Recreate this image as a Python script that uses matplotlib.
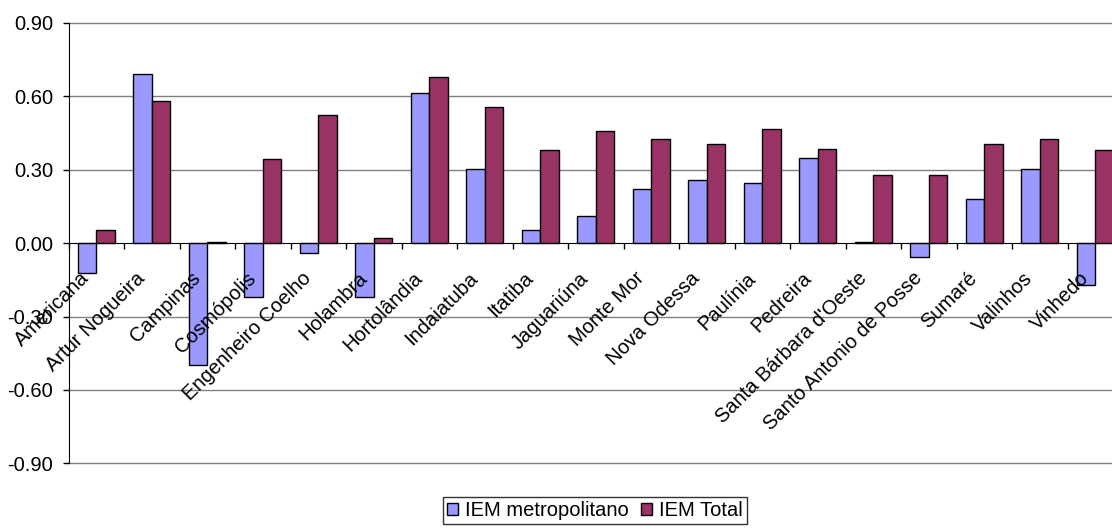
import matplotlib
matplotlib.use("Agg")
import matplotlib.pyplot as plt
import numpy as np
from matplotlib.ticker import FormatStrFormatter, FixedLocator

plt.rcParams['font.family'] = ['Liberation Sans', 'DejaVu Sans']

municipios = ["Americana", "Artur Nogueira", "Campinas", "Cosmópolis",
              "Engenheiro Coelho", "Holambra", "Hortolândia", "Indaiatuba",
              "Itatiba", "Jaguariúna", "Monte Mor", "Nova Odessa", "Paulínia",
              "Pedreira", "Santa Bárbara d'Oeste", "Santo Antonio de Posse",
              "Sumaré", "Valinhos", "Vinhedo"]
iem_metropolitano = [-0.123, 0.690, -0.498, -0.220, -0.040, -0.220, 0.612,
                     0.303, 0.053, 0.110, 0.220, 0.259, 0.247, 0.349, 0.006,
                     -0.057, 0.180, 0.303, -0.172]
iem_total = [0.053, 0.581, 0.006, 0.342, 0.522, 0.020, 0.678, 0.556, 0.380,
             0.458, 0.425, 0.406, 0.465, 0.386, 0.277, 0.277, 0.406, 0.425,
             0.380]
y_ticks = [-0.90, -0.60, -0.30, 0.00, 0.30, 0.60, 0.90]

FS = 14.5

fig = plt.figure(figsize=(11.12, 5.31), dpi=100)
ax = fig.add_axes([0.0618, 0.1275, 0.9382, 0.8292])

x = np.arange(len(municipios))
w = 1 / 3
b1 = ax.bar(x - w / 2, iem_metropolitano, width=w, color="#9999FF",
            edgecolor="black", linewidth=1.0, label="IEM metropolitano", zorder=3)
b2 = ax.bar(x + w / 2, iem_total, width=w, color="#993366",
            edgecolor="black", linewidth=1.0, label="IEM Total", zorder=3)

ax.set_ylim(-0.9, 0.9)
ax.set_xlim(-0.5, 18.3)
ax.set_yticks(y_ticks)
ax.yaxis.set_major_formatter(FormatStrFormatter('%.2f'))

# horizontal grid, kept unclipped so the edge lines show at full width
for yv in y_ticks:
    if yv != 0:
        ax.axhline(yv, color="#808080", linewidth=1.0, zorder=1, clip_on=False)

for s in ("top", "right"):
    ax.spines[s].set_visible(False)
ax.spines["bottom"].set_position(("data", 0))
ax.spines["bottom"].set_color("black")
ax.spines["bottom"].set_zorder(4)
ax.spines["left"].set_color("black")
ax.spines["left"].set_zorder(4)

ax.tick_params(axis="y", direction="out", length=4.3, width=1,
               labelsize=FS, pad=7)

# category labels sit on the zero axis and are drawn above the bars
ax.set_xticks(x)
ax.set_xticklabels([])
ax.tick_params(axis="x", which="major", length=0)
ax.xaxis.set_minor_locator(FixedLocator(np.arange(-0.5, 18.6, 1.0)))
ax.tick_params(axis="x", which="minor", direction="out", length=4.3, width=1)
for xi, name in zip(x, municipios):
    ax.annotate(name, xy=(xi, 0), xycoords="data",
                xytext=(-4.3, -26), textcoords="offset points",
                rotation=45, rotation_mode="anchor", ha="right",
                va="baseline", fontsize=FS, zorder=6, annotation_clip=False)

leg = fig.legend(handles=[b1, b2], loc="center",
                 bbox_to_anchor=(0.535, 0.038), ncol=2, fontsize=FS,
                 frameon=True, fancybox=False, edgecolor="black",
                 handlelength=0.55, handleheight=0.55, handletextpad=0.35,
                 columnspacing=0.6, borderpad=0.2, borderaxespad=0)
leg.get_frame().set_linewidth(1.0)

fig.savefig("out.png", dpi=100)
